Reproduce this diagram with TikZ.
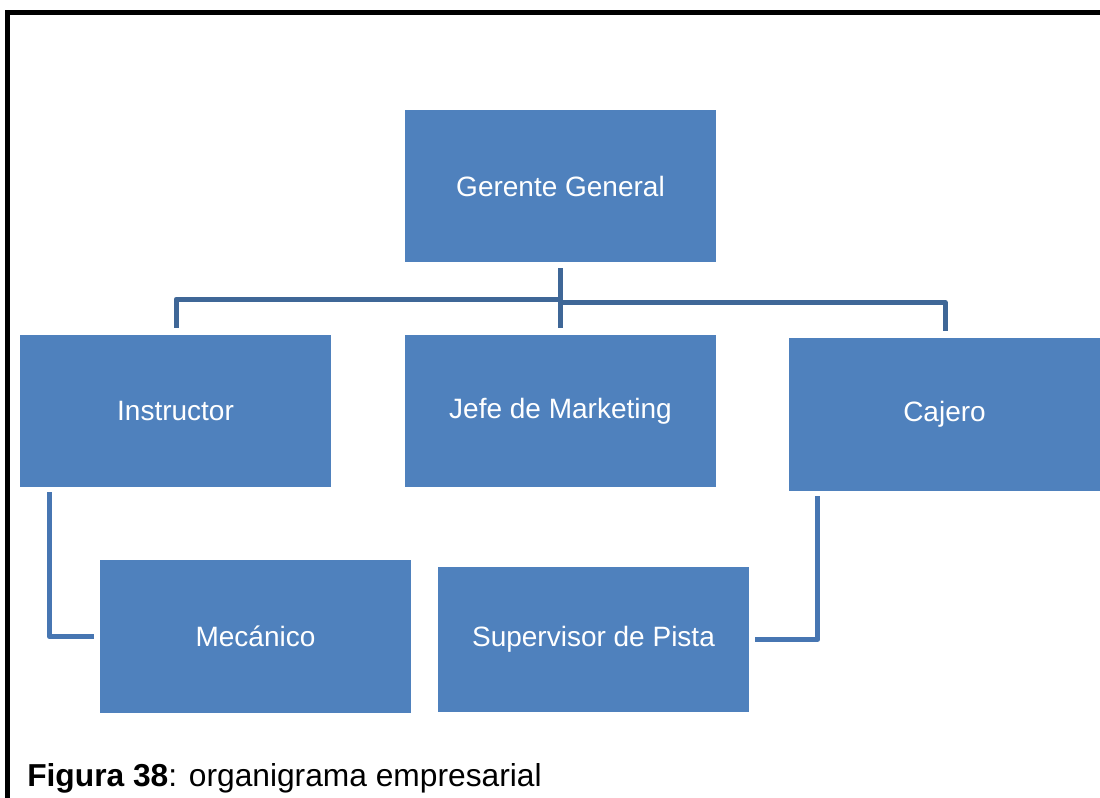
\documentclass[tikz,border=0pt]{standalone}
\usepackage{fontspec}
\setmainfont{Liberation Sans}
\usetikzlibrary{calc}
\definecolor{boxblue}{HTML}{4F81BD}
\definecolor{treeblue}{HTML}{3F6797}
\definecolor{linkblue}{HTML}{4776B2}
\begin{document}
\begin{tikzpicture}[x=0.75pt,y=-0.75pt,
  orgbox/.style={rectangle, fill=boxblue, draw=none, inner sep=0pt,
    text=white, font=\fontsize{21}{25}\selectfont,
    minimum width=233.25pt, minimum height=114pt},
  tree/.style={draw=treeblue, line width=3.75pt, line cap=butt, line join=round},
  link/.style={draw=linkblue, line width=3.75pt, line cap=butt, line join=round}]
\useasboundingbox (0,0) rectangle (1100,798);

% frame
\draw[line width=3.75pt] (7.5,798) -- (7.5,12.5) -- (1100,12.5);

% boxes
\node[orgbox] (gg) at (560.5,186) {Gerente General};
\node[orgbox] (ins) at (175.5,411) {Instructor};
\node[orgbox] (jefe) at (560.5,411) {Jefe de Marketing};
\node[orgbox, minimum height=114.75pt] (caj) at (944.5,414.5) {Cajero};
\node[orgbox, minimum height=114.75pt] (mec) at (255.5,636.5) {Mecánico};
\node[orgbox, minimum height=108.75pt] (sup) at (593.5,639.5) {Supervisor de Pista};

% top-level tree
\draw[tree] ($(gg.south)+(0,6)$) -- ($(jefe.north)+(0,-7)$);
\draw[tree] ($(ins.north)+(0.5,-7)$) |- ($(gg.south)+(0,37)$);
\draw[tree] ($(caj.north)+(0.5,-7)$) |- ($(gg.south)+(0,40)$);

% side links
\draw[link] ($(ins.south west)+(29.5,5)$) |- ($(mec.west)+(-6,0)$);
\draw[link] ($(caj.south west)+(29,5)$) |- ($(sup.east)+(6,0)$);

% caption
\node[anchor=base west, inner sep=0pt, font=\fontsize{23.8}{28}\selectfont] (cap) at (27,786)
  {\textbf{Figura 38}: organigrama empresarial};
\end{tikzpicture}
\end{document}
